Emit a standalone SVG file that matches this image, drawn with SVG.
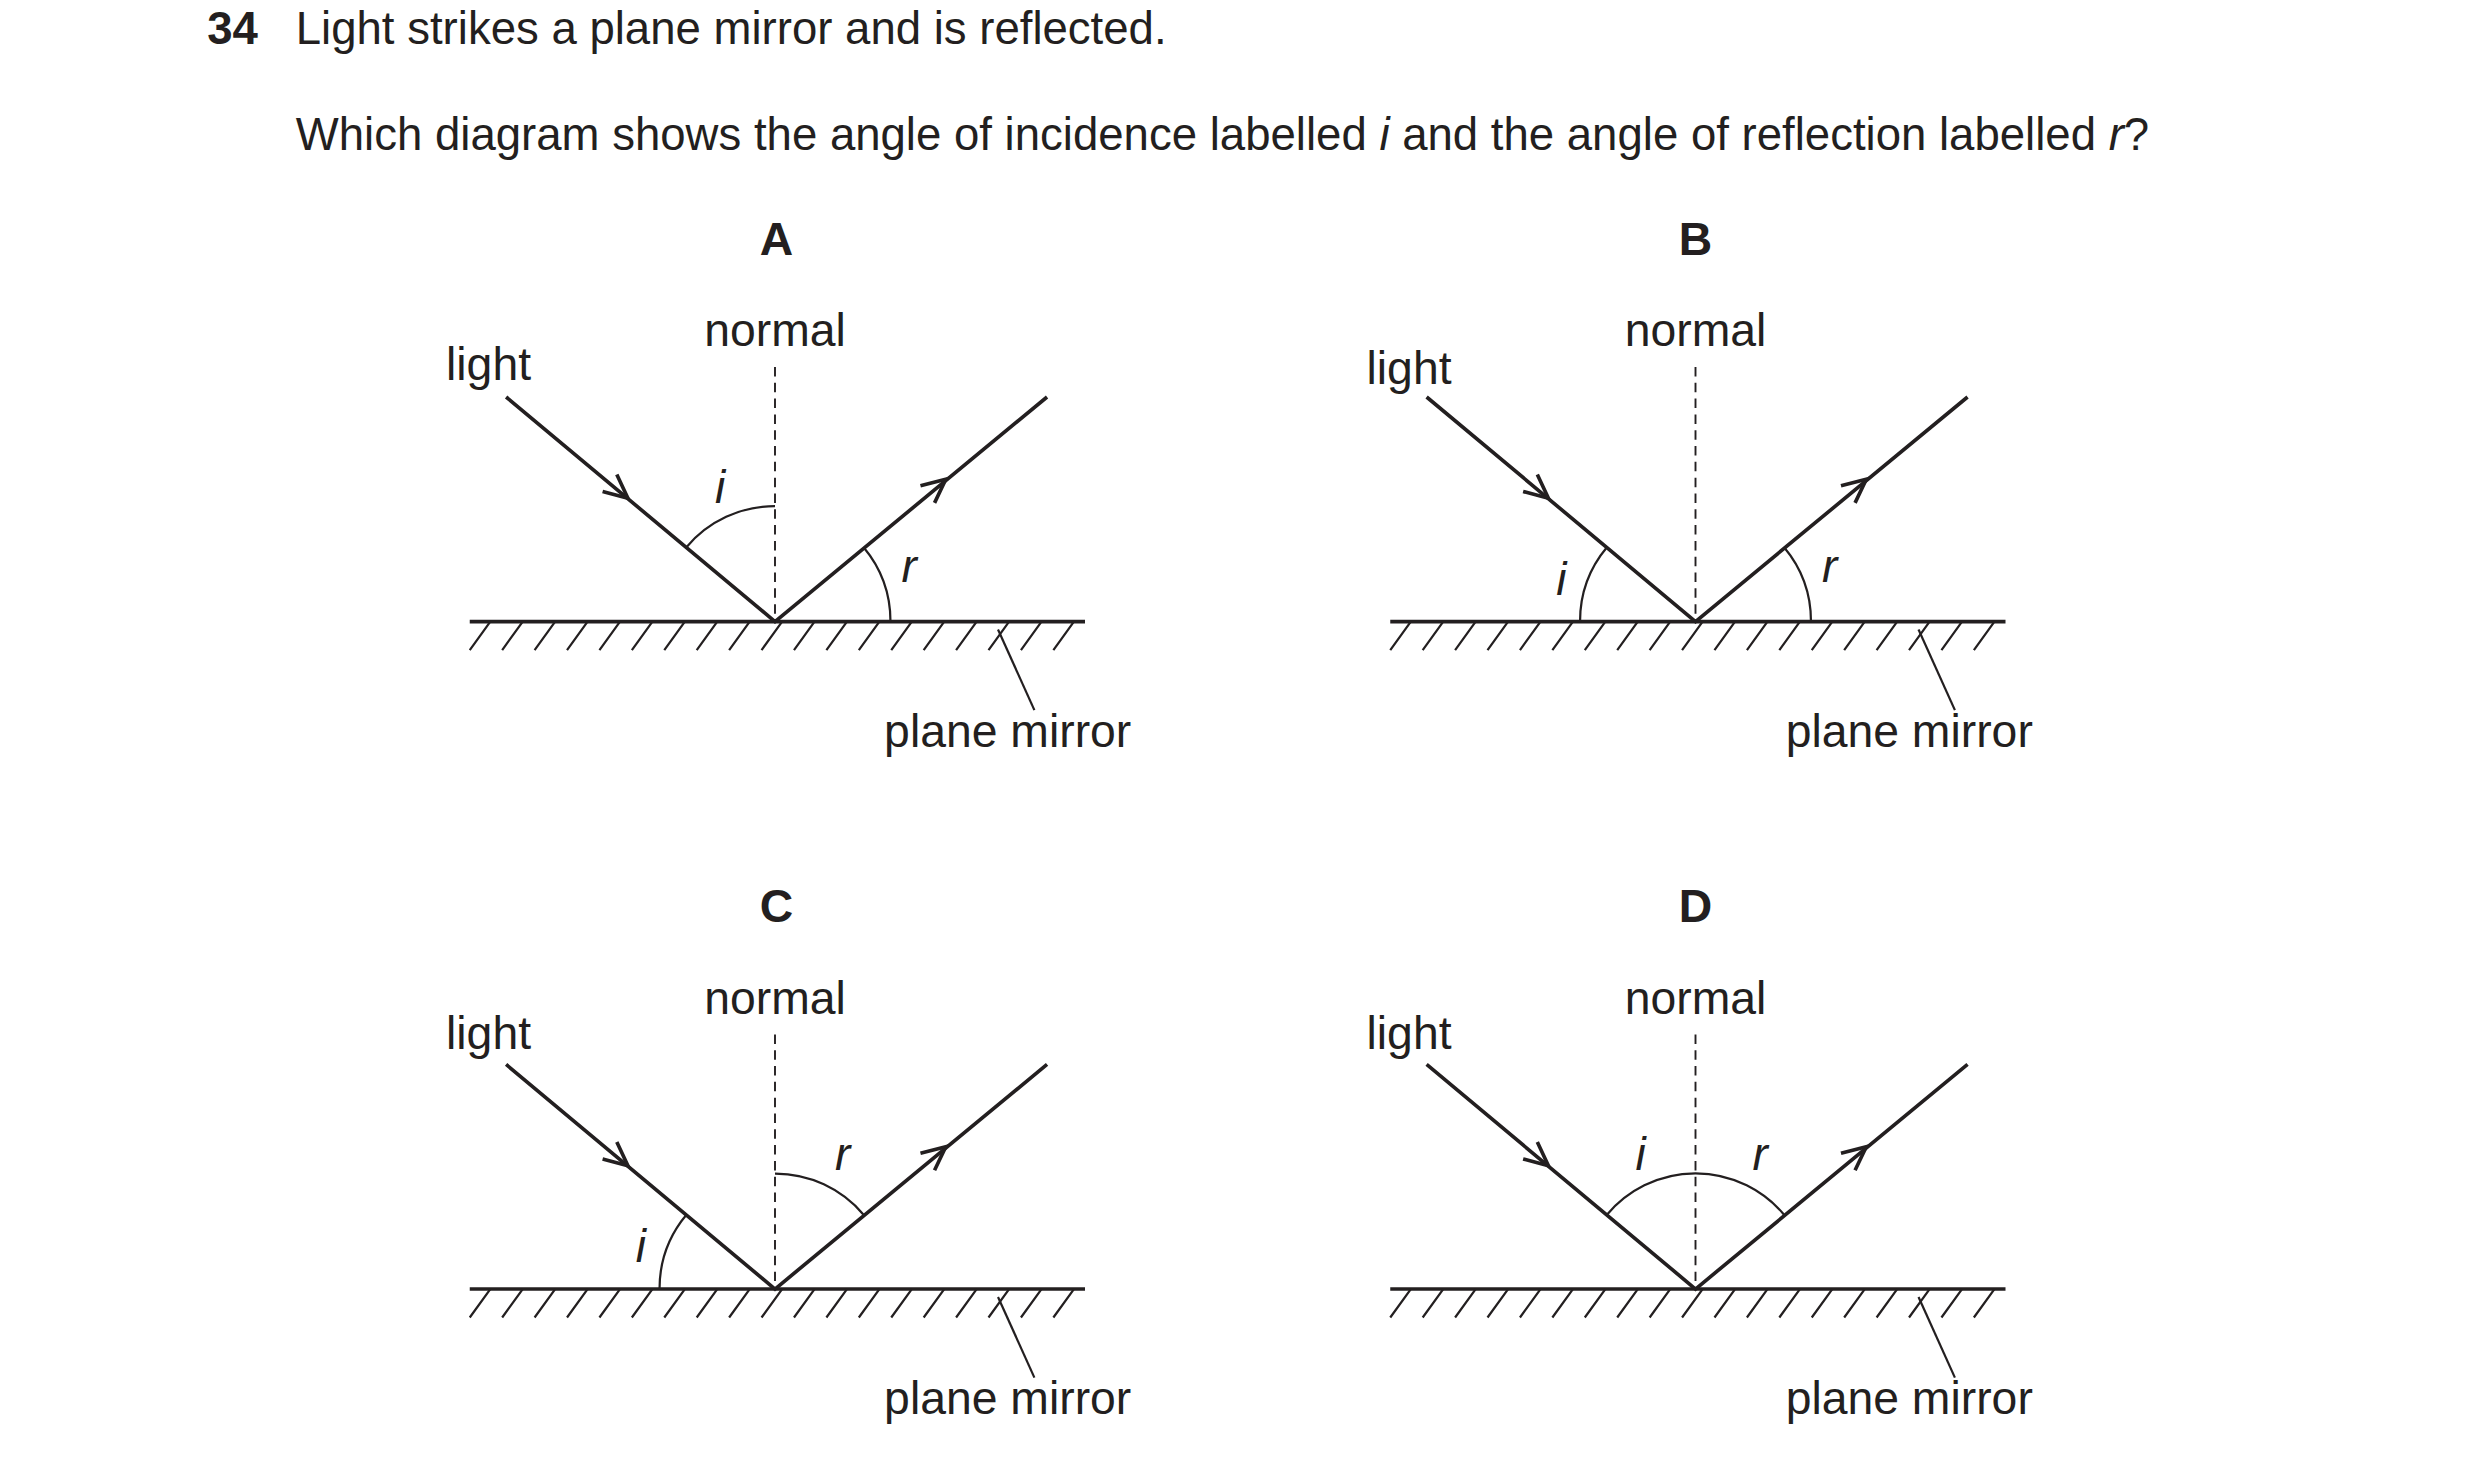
<svg xmlns="http://www.w3.org/2000/svg" xmlns:xlink="http://www.w3.org/1999/xlink" width="2480" height="1464" viewBox="0 0 2480 1464">
<style>
text{font-family:"Liberation Sans",Arial,sans-serif;fill:#231f20}
.t{font-size:28.8px}.lb{font-size:29.3px}.b{font-weight:bold}.it{font-style:italic;font-size:29px}
.ray{stroke:#231f20;stroke-width:2.3;fill:none}
.thin{stroke:#231f20;stroke-width:1.4;fill:none}
.dash{stroke:#231f20;stroke-width:1.2;stroke-dasharray:6 4;fill:none}
</style>
<defs>
<path id="hatch" class="thin" d="M0 18l13-18M20.5 18l13-18M41 18l13-18M61.5 18l13-18M82 18l13-18M102.5 18l13-18M123 18l13-18M143.5 18l13-18M164 18l13-18M184.5 18l13-18M205 18l13-18M225.5 18l13-18M246 18l13-18M266.5 18l13-18M287 18l13-18M307.5 18l13-18M328 18l13-18M348.5 18l13-18M369 18l13-18"/>
<path id="arr" class="ray" d="M-15-7L0 0L-15 7"/>
<g id="base">
<line class="ray" x1="-193" y1="0" x2="196" y2="0"/>
<use xlink:href="#hatch" x="-193"/>
<line class="dash" x1="0" y1="-161" x2="0" y2="0"/>
<polyline class="ray" points="-170,-142 0,0 172,-142"/>
<use xlink:href="#arr" transform="translate(-93,-78) rotate(39.9)"/>
<use xlink:href="#arr" transform="translate(108,-90) rotate(-39.5)"/>
<text class="lb" x="0" y="-174" text-anchor="middle">normal</text>
<line class="thin" x1="141" y1="5" x2="164" y2="56"/>
</g>
</defs>
<g transform="scale(1.58163)">
<g id="header">
<text class="t b" x="131" y="28">34</text>
<text class="t" x="187" y="28">Light strikes a plane mirror and is reflected.</text>
<text class="t" x="187" y="95">Which diagram shows the angle of incidence labelled <tspan font-style="italic">i</tspan> and the angle of reflection labelled <tspan font-style="italic">r</tspan>?</text>
</g>
<g id="A" transform="translate(490,393)">
<text class="lb b" x="1" y="-232" text-anchor="middle">A</text>
<use xlink:href="#base"/>
<text class="lb" x="69" y="79">plane mirror</text>
<text class="lb" x="-208" y="-153">light</text>
<path class="thin" d="M-56 -47A73 73 0 0 1 0 -73M56 -47A73 73 0 0 1 73 0"/>
<text class="it" x="-38" y="-75">i</text>
<text class="it" x="80" y="-25">r</text>
</g>
<g id="B" transform="translate(1072,393)">
<text class="lb b" x="0" y="-232" text-anchor="middle">B</text>
<use xlink:href="#base"/>
<text class="lb" x="57" y="79">plane mirror</text>
<text class="lb" x="-208" y="-150">light</text>
<path class="thin" d="M-73 0A73 73 0 0 1 -56 -47M56 -47A73 73 0 0 1 73 0"/>
<text class="it" x="-88" y="-17">i</text>
<text class="it" x="80" y="-25">r</text>
</g>
<g id="C" transform="translate(490,815)">
<text class="lb b" x="1" y="-232" text-anchor="middle">C</text>
<use xlink:href="#base"/>
<text class="lb" x="69" y="79">plane mirror</text>
<text class="lb" x="-208" y="-152">light</text>
<path class="thin" d="M-73 0A73 73 0 0 1 -56 -47M0 -73A73 73 0 0 1 56 -47"/>
<text class="it" x="-88" y="-17">i</text>
<text class="it" x="38" y="-75">r</text>
</g>
<g id="D" transform="translate(1072,815)">
<text class="lb b" x="0" y="-232" text-anchor="middle">D</text>
<use xlink:href="#base"/>
<text class="lb" x="57" y="79">plane mirror</text>
<text class="lb" x="-208" y="-152">light</text>
<path class="thin" d="M-56 -47A73 73 0 0 1 56 -47"/>
<text class="it" x="-38" y="-75">i</text>
<text class="it" x="36" y="-75">r</text>
</g>
</g>
</svg>
